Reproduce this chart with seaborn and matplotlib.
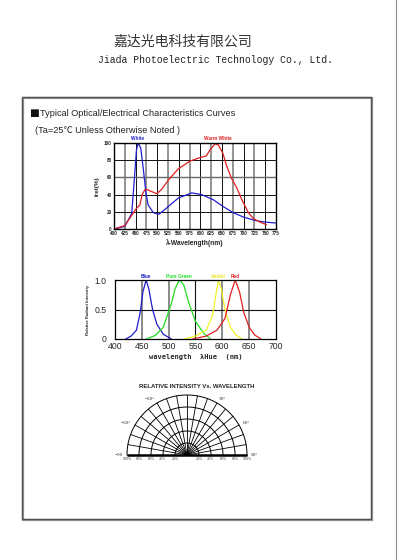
import numpy as np
import pandas as pd
import seaborn as sns
import matplotlib.pyplot as plt
from matplotlib.patches import Rectangle
from matplotlib.lines import Line2D

# --- data ---
# spectrum of the white / warm white LED
white_nm = [400, 425, 441, 447, 452, 456, 462, 468, 474, 479, 491, 503, 514, 530,
            549, 580, 603, 630, 653, 676, 699, 726, 750, 775]
white_val = [0, 3, 18, 57, 92, 100, 94, 69, 42, 28, 19, 17, 21, 28,
             36, 42, 40, 34, 26, 19, 14, 10, 8, 7]
warm_nm = [400, 425, 452, 460, 465, 472, 476, 485, 499, 510, 526, 549, 576, 599,
           614, 622, 634, 641, 652, 661, 672, 684, 696, 711, 723, 738, 753]
warm_val = [0, 4, 24, 28, 40, 46, 46, 44, 41, 46, 57, 70, 79, 83,
            85, 92, 99, 98, 88, 73, 59, 48, 34, 19, 12, 8, 5]

# single colour LEDs
blue_nm = [420, 430, 440, 447, 452, 458, 463, 470, 478, 490, 505]
blue_val = [0, 0.05, 0.15, 0.45, 0.8, 1.0, 0.85, 0.5, 0.25, 0.08, 0]
green_nm = [458, 475, 490, 505, 512, 520, 528, 538, 550, 565, 578]
green_val = [0, 0.06, 0.2, 0.6, 0.85, 1.0, 0.92, 0.6, 0.3, 0.1, 0]
amber_nm = [530, 550, 570, 582, 588, 593, 598, 605, 615, 625, 637]
amber_val = [0, 0.05, 0.15, 0.4, 0.75, 1.0, 0.85, 0.5, 0.2, 0.07, 0]
red_nm = [545, 570, 590, 605, 615, 624, 632, 640, 650, 660, 672]
red_val = [0, 0.05, 0.15, 0.35, 0.75, 1.0, 0.8, 0.45, 0.2, 0.07, 0]

spec_xticks = list(range(400, 776, 25))
spec_yticks = [0, 20, 40, 60, 80, 100]
color_xticks = [400, 450, 500, 550, 600, 650, 700]
color_yticks = [0, 0.5, 1.0]
color_ytick_labels = ["0", "0.5", "1.0"]

# polar chart grid: angles in degrees (0 = straight up), rings as fraction
polar_angles = list(range(-90, 91, 10))
polar_angle_labels = {-90: "\u221290", -60: "\u221260\u00b0", -30: "\u221230\u00b0",
                      30: "30\u00b0", 60: "60\u00b0", 90: "90\u00b0"}
polar_rings = [0.2, 0.4, 0.6, 0.8, 1.0]
ring_labels = ["20%", "40%", "60%", "80%", "100%"]

sns.set_style("white")
plt.rcParams['font.family'] = ['Liberation Sans', 'Noto Sans CJK SC', 'DejaVu Sans']

W, H = 398, 560
fig = plt.figure(figsize=(W / 100, H / 100), dpi=100)


def fx(px):
    return px / W


def fy(py):
    return 1 - py / H


# page decorations
fig.add_artist(Line2D([fx(396), fx(396)], [0, 1], color='#8a8a8a', lw=0.8))
fig.add_artist(Rectangle((fx(23), fy(520)), fx(349), 422 / H, transform=fig.transFigure,
                         fill=False, ec='#9a9a9a', lw=1.6))
fig.add_artist(Rectangle((fx(22), fy(519)), fx(349), 422 / H, transform=fig.transFigure,
                         fill=False, ec='#505050', lw=1.0))

fig.text(fx(183), fy(42), "嘉达光电科技有限公司", ha='center', va='center', fontsize=10,
         family=['Noto Sans CJK SC'], color='#333')
fig.text(fx(216), fy(60), "Jiada Photoelectric Technology Co., Ltd.", ha='center', va='center',
         fontsize=7.0, family=['Liberation Mono'], color='#222')
fig.text(fx(29), fy(113), "\u25a0", ha='left', va='center', fontsize=7.5,
         family=['DejaVu Sans'], color='#111')
fig.text(fx(40), fy(113), "Typical Optical/Electrical Characteristics Curves",
         ha='left', va='center', fontsize=6.6, color='#222')
fig.text(fx(35), fy(130), "(Ta=25\u2103 Unless Otherwise Noted )", ha='left', va='center',
         fontsize=6.6, color='#222')

# --- 1: white spectrum ---
ax1 = fig.add_axes([fx(114), fy(229), fx(162), 86 / H])
sns.lineplot(x=white_nm, y=white_val, ax=ax1, color='#1f1fcf', lw=0.9, sort=False)
sns.lineplot(x=warm_nm, y=warm_val, ax=ax1, color='#e02020', lw=0.9, sort=False)
ax1.set_xlim(400, 775)
ax1.set_ylim(0, 100)
for i, v in enumerate(spec_xticks[1:-1]):
    ax1.axvline(v, color='#777777' if i % 2 == 0 else '#111111',
                lw=1.1 if i % 2 == 0 else 0.7, zorder=0)
for v in spec_yticks[1:-1]:
    ax1.axhline(v, color='#6a6a6a' if v == 60 else '#111111', lw=1.0 if v == 60 else 0.7, zorder=0)
ax1.set_xticks(spec_xticks)
ax1.set_yticks(spec_yticks)
ax1.tick_params(length=0, pad=1.5, labelsize=3.3)
for lab in ax1.get_xticklabels() + ax1.get_yticklabels():
    lab.set_fontweight('bold')
for s in ax1.spines.values():
    s.set_color('black')
    s.set_linewidth(1.0)
ax1.set_xlabel("\u03bb-Wavelength(nm)", fontsize=4.8, fontweight='bold', labelpad=2)
ax1.set_ylabel("Irel(%)", fontsize=4.6, fontweight='bold', labelpad=3)
ax1.text(455, 102, "White", color='#1f1fcf', fontsize=3.4, fontweight='bold', ha='center', va='bottom')
ax1.text(640, 102, "Warm White", color='#e02020', fontsize=3.4, fontweight='bold', ha='center', va='bottom')

# --- 2: colour LEDs ---
ax2 = fig.add_axes([fx(115), fy(339), fx(161), 59 / H])
for xs, ys, c in [(blue_nm, blue_val, '#1c1cc8'), (green_nm, green_val, '#22dd22'),
                  (amber_nm, amber_val, '#f2f22a'), (red_nm, red_val, '#e02020')]:
    sns.lineplot(x=xs, y=ys, ax=ax2, color=c, lw=0.9, sort=False)
ax2.set_xlim(400, 700)
ax2.set_ylim(0, 1.0)
for v in color_xticks[1:-1]:
    ax2.axvline(v, color='#111111' if v == 550 else '#777777', lw=0.8 if v == 550 else 1.2, zorder=0)
ax2.axhline(0.5, color='#111111', lw=0.8, zorder=0)
ax2.set_xticks(color_xticks)
ax2.set_yticks(color_yticks)
ax2.set_yticklabels(color_ytick_labels)
ax2.tick_params(axis='x', length=0, pad=2.5, labelsize=6.2)
ax2.tick_params(axis='y', length=0, pad=6, labelsize=6.2)
for s in ax2.spines.values():
    s.set_color('black')
    s.set_linewidth(0.9)
ax2.set_xlabel("wavelength  \u03bbHue  (nm)", fontsize=5, fontweight='bold',
               family=['DejaVu Sans Mono'], labelpad=2)
ax2.set_ylabel("Relative Radiant Intensity", fontsize=3, fontweight='bold', labelpad=3)
for x, name, c in [(457, "Blue", '#1c1cc8'), (520, "Pure Green", '#22dd22'),
                   (593, "Amber", '#e8e820'), (624, "Red", '#e02020')]:
    ax2.text(x, 1.01, name, color=c, fontsize=3.4, fontweight='bold', ha='center', va='bottom')

# --- 3: polar grid drawn on a plain axes (unit radius = 60 px) ---
fig.text(fx(197), fy(386), "RELATIVE INTENSITY Vs. WAVELENGTH", ha='center', va='center',
         fontsize=4.3, fontweight='bold')
ax3 = fig.add_axes([fx(127), fy(455), fx(120), 60 / H])
ax3.set_xlim(-1, 1)
ax3.set_ylim(0, 1)
ax3.axis('off')
t = np.linspace(0, np.pi, 121)
for r in polar_rings:
    ax3.plot(r * np.cos(t), r * np.sin(t), color='black', lw=0.7, clip_on=False)
for a in polar_angles:
    th = np.radians(a)
    ax3.plot([0, np.sin(th)], [0, np.cos(th)], color='black', lw=0.6, clip_on=False)
ax3.plot([-1, 1], [0, 0], color='black', lw=1.8, clip_on=False, solid_capstyle='butt')
for a, lab in polar_angle_labels.items():
    th = np.radians(a)
    ha = 'right' if a < 0 else 'left'
    ax3.text(1.07 * np.sin(th), 1.07 * np.cos(th), lab, ha=ha, va='center', fontsize=3.8,
             family=['Liberation Serif'], color='#333', clip_on=False)
for r, lab in zip(polar_rings, ring_labels):
    for sgn in (-1, 1):
        ax3.text(sgn * r, -0.04, lab, ha='center', va='top', fontsize=2.6, color='#444',
                 clip_on=False)

fig.savefig("out.png", dpi=100)
